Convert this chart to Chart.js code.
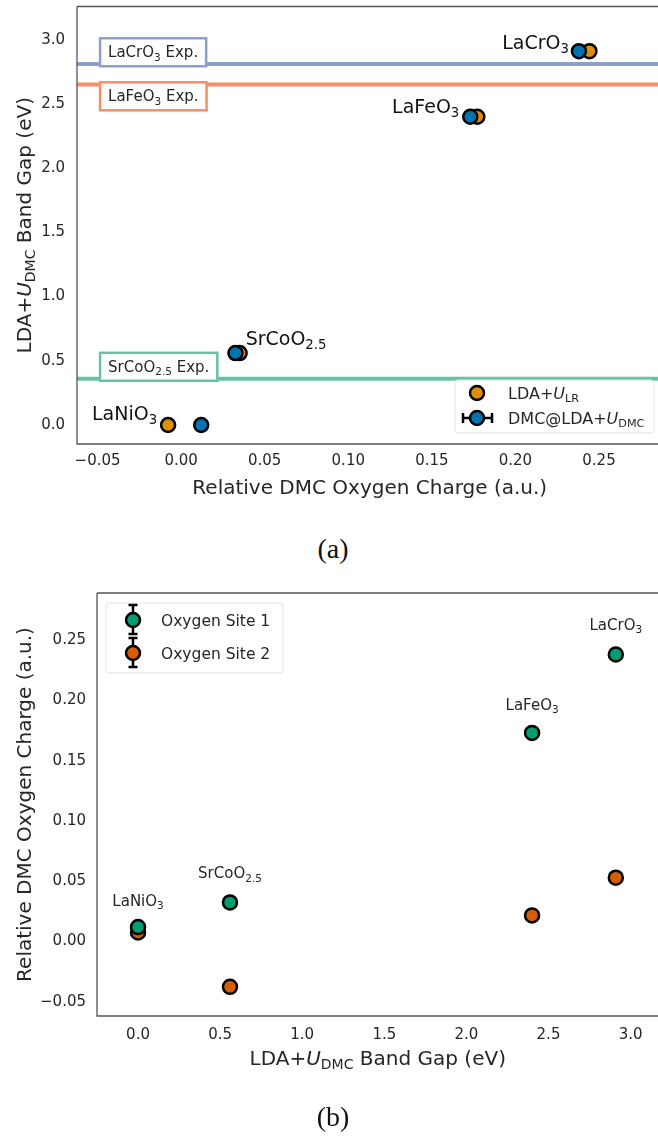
<!DOCTYPE html>
<html>
<head>
<meta charset="utf-8">
<script src="https://cdn.jsdelivr.net/npm/chart.js"></script>
<style>
  body { margin: 0; background: #fff; width: 658px; height: 1141px; position: relative; overflow: hidden; }
  canvas { position: absolute; left: 0; }
  .cap { position: absolute; left: 0; width: 666px; text-align: center; font-family: "Liberation Serif", "DejaVu Serif", serif; font-size: 28px; color: #111; }
</style>
</head>
<body>
<canvas id="chartA" width="668" height="524" style="top:-3px"></canvas>
<div class="cap" style="top:533px">(a)</div>
<canvas id="chartB" width="668" height="581" style="top:560px"></canvas>
<div class="cap" style="top:1101px">(b)</div>
<script>
const FONT = "DejaVu Sans";

// data
const materials = ["LaCrO3", "LaFeO3", "SrCoO2.5", "LaNiO3"];
const bandGapDMC = [2.91, 2.40, 0.56, 0.0];
const chargeSite1 = [0.238, 0.173, 0.0325, 0.012];
const chargeSite2 = [0.053, 0.0217, -0.0375, 0.0075];
const chargeLR = [0.2443, 0.1772, 0.035, -0.0078];
const expNames = ["LaCrO3", "LaFeO3", "SrCoO2.5"];
const expGap = [2.81, 2.65, 0.36];

const xTicksA = [-0.05, 0, 0.05, 0.10, 0.15, 0.20, 0.25];
const yTicksA = [0, 0.5, 1.0, 1.5, 2.0, 2.5, 3.0];
const xTicksB = [0, 0.5, 1.0, 1.5, 2.0, 2.5, 3.0];
const yTicksB = [-0.05, 0, 0.05, 0.10, 0.15, 0.20, 0.25];

const expColors = ["#8da0cb", "#fc8d62", "#66c2a5"];
const TXT = "#262626";

// ---- rich text helpers (subscripts / italic) ----
function partFont(p, size) {
  const s = p.sub ? size * 0.7 : size;
  return (p.it ? "italic " : "") + s + "px " + FONT;
}
function richWidth(ctx, parts, size) {
  let w = 0;
  parts.forEach(p => { ctx.font = partFont(p, size); w += ctx.measureText(p.t).width; });
  return w;
}
function drawRich(ctx, parts, x, y, size, align, color) {
  const w = richWidth(ctx, parts, size);
  let cx = align === "right" ? x - w : align === "center" ? x - w / 2 : x;
  ctx.save();
  ctx.fillStyle = color;
  ctx.textAlign = "left";
  ctx.textBaseline = "alphabetic";
  parts.forEach(p => {
    ctx.font = partFont(p, size);
    ctx.fillText(p.t, cx, y + (p.sub ? size * 0.22 : 0));
    cx += ctx.measureText(p.t).width;
  });
  ctx.restore();
  return w;
}
function chem(name, extra) {
  const m = name.match(/^(.*?)([\d.]+)$/);
  const parts = m ? [{ t: m[1] }, { t: m[2], sub: true }] : [{ t: name }];
  return extra ? parts.concat([{ t: extra }]) : parts;
}
const ldaU = [{ t: "LDA+" }, { t: "U", it: true }, { t: "DMC", sub: true }];

function marker(ctx, x, y, color) {
  ctx.beginPath();
  ctx.arc(x, y, 7, 0, Math.PI * 2);
  ctx.fillStyle = color;
  ctx.fill();
  ctx.lineWidth = 2.5;
  ctx.strokeStyle = "#000";
  ctx.stroke();
}
function legendBox(ctx, x, y, w, h) {
  ctx.save();
  ctx.beginPath();
  ctx.roundRect(x, y, w, h, 3);
  ctx.fillStyle = "rgba(255,255,255,0.85)";
  ctx.fill();
  ctx.strokeStyle = "#e3e3e3";
  ctx.lineWidth = 1;
  ctx.stroke();
  ctx.restore();
}
function spines(ctx, a) {
  ctx.save();
  ctx.strokeStyle = "#555";
  ctx.lineWidth = 1.3;
  ctx.beginPath();
  ctx.moveTo(a.left, a.top); ctx.lineTo(a.right, a.top);
  ctx.moveTo(a.left, a.top); ctx.lineTo(a.left, a.bottom); ctx.lineTo(a.right, a.bottom);
  ctx.stroke();
  ctx.restore();
}
function rotatedTitle(ctx, parts, x, y, size) {
  ctx.save();
  ctx.translate(x, y);
  ctx.rotate(-Math.PI / 2);
  drawRich(ctx, parts, 0, 0, size, "center", TXT);
  ctx.restore();
}
const fmt = (v, d) => v.toFixed(d).replace("-", "\u2212");

function axis(min, max, ticks, dec, pad, fit) {
  return {
    type: "linear", min, max,
    afterBuildTicks: s => { s.ticks = ticks.map(v => ({ value: v })); },
    afterFit: s => {
      fit(s);
      s.paddingLeft = s.paddingRight = s.paddingTop = s.paddingBottom = 0;
    },
    grid: { display: false, drawTicks: false, tickLength: 0 },
    border: { display: false },
    ticks: { callback: v => fmt(v, dec), font: { family: FONT, size: 15 }, color: TXT, padding: pad }
  };
}

// ---- chart (a) ----  (canvas sits 3px above the page top)
const OFF = 3;
const expBoxX = -0.0485;
const expBoxY = [2.902, 2.559, 0.453];
const labelA = [
  { ref: 0, dx: -10, dy: -2, align: "right" },
  { ref: 0, dx: -11, dy: -4, align: "right" },
  { ref: 1, dx: 6, dy: -8, align: "left" },
  { ref: 1, dx: -11, dy: -5, align: "right" }
];

const decorA = {
  id: "decorA",
  afterDraw(chart) {
    const ctx = chart.ctx, xs = chart.scales.x, ys = chart.scales.y, a = chart.chartArea;
    // experimental gap labels
    expNames.forEach((n, i) => {
      const parts = chem(n, " Exp.");
      const w = richWidth(ctx, parts, 15);
      const left = xs.getPixelForValue(expBoxX), cy = ys.getPixelForValue(expBoxY[i]);
      ctx.save();
      ctx.fillStyle = "#fff";
      ctx.fillRect(left, cy - 14, w + 16, 28);
      ctx.strokeStyle = expColors[i];
      ctx.lineWidth = 2.5;
      ctx.strokeRect(left, cy - 14, w + 16, 28);
      ctx.restore();
      drawRich(ctx, parts, left + 8, cy + 5, 15, "left", TXT);
    });
    // point labels
    materials.forEach((n, i) => {
      const L = labelA[i];
      const xv = L.ref === 0 ? chargeSite1[i] : chargeLR[i];
      const px = xs.getPixelForValue(xv), py = ys.getPixelForValue(bandGapDMC[i]);
      drawRich(ctx, chem(n), px + L.dx, py + L.dy, 19, L.align, "#111");
    });
    spines(ctx, a);
    // axis titles
    rotatedTitle(ctx, ldaU.concat([{ t: " Band Gap (eV)" }]), 31, (a.top + a.bottom) / 2, 20);
    drawRich(ctx, [{ t: "Relative DMC Oxygen Charge (a.u.)" }], (a.left + a.right) / 2 + 2, 494 + OFF, 20, "center", TXT);
    // legend
    legendBox(ctx, 455, 380 + OFF, 199, 53);
    marker(ctx, 477, 393 + OFF, "#DE8F05");
    ctx.save();
    ctx.strokeStyle = "#000"; ctx.lineWidth = 2.5;
    ctx.beginPath();
    ctx.moveTo(463, 418 + OFF); ctx.lineTo(492, 418 + OFF);
    ctx.moveTo(463, 413 + OFF); ctx.lineTo(463, 423 + OFF);
    ctx.moveTo(492, 413 + OFF); ctx.lineTo(492, 423 + OFF);
    ctx.stroke();
    ctx.restore();
    marker(ctx, 477, 418 + OFF, "#0173B2");
    drawRich(ctx, [{ t: "LDA+" }, { t: "U", it: true }, { t: "LR", sub: true }], 508, 398.5 + OFF, 16, "left", TXT);
    drawRich(ctx, [{ t: "DMC@LDA+" }, { t: "U", it: true }, { t: "DMC", sub: true }], 508, 423.5 + OFF, 16, "left", TXT);
  }
};

const ptStyle = c => ({ backgroundColor: c, borderColor: "#000", borderWidth: 2.5, pointRadius: 7 });

new Chart(document.getElementById("chartA"), {
  type: "scatter",
  data: {
    datasets: [
      Object.assign({ label: "DMC@LDA+U_DMC", data: chargeSite1.map((x, i) => ({ x, y: bandGapDMC[i] })), order: 0 }, ptStyle("#0173B2")),
      Object.assign({ label: "LDA+U_LR", data: chargeLR.map((x, i) => ({ x, y: bandGapDMC[i] })), order: 1 }, ptStyle("#DE8F05"))
    ].concat(expGap.map((g, i) => ({
      label: expNames[i] + " Exp.",
      data: [{ x: -1, y: g }, { x: 1, y: g }],
      showLine: true, borderColor: expColors[i], borderWidth: 4, pointRadius: 0, order: 2
    })))
  },
  options: {
    responsive: false, animation: false, devicePixelRatio: 1, events: [],
    layout: { padding: { top: 1, right: 0, left: 0, bottom: 0 } },
    plugins: { legend: { display: false }, tooltip: { enabled: false } },
    scales: {
      x: axis(-0.0623, 0.2856, xTicksA, 2, 8, s => { s.height = 77; }),
      y: axis(-0.148, 3.258, yTicksA, 1, 12, s => { s.width = 77; })
    }
  },
  plugins: [decorA]
});

// ---- chart (b) ----
const labelDyB = [-25, -23, -24, -21];

const decorB = {
  id: "decorB",
  afterDraw(chart) {
    const ctx = chart.ctx, xs = chart.scales.x, ys = chart.scales.y, a = chart.chartArea;
    materials.forEach((n, i) => {
      const px = xs.getPixelForValue(bandGapDMC[i]), py = ys.getPixelForValue(chargeSite1[i]);
      drawRich(ctx, chem(n), px, py + labelDyB[i], 15, "center", TXT);
    });
    spines(ctx, a);
    rotatedTitle(ctx, [{ t: "Relative DMC Oxygen Charge (a.u.)" }], 31, (a.top + a.bottom) / 2, 20);
    drawRich(ctx, ldaU.concat([{ t: " Band Gap (eV)" }]), (a.left + a.right) / 2, 505, 20, "center", TXT);
    // legend
    legendBox(ctx, 106, 43, 177, 70);
    ctx.save();
    ctx.strokeStyle = "#000"; ctx.lineWidth = 2.5;
    [[45, 74], [78, 107]].forEach(([y0, y1]) => {
      ctx.beginPath();
      ctx.moveTo(133, y0); ctx.lineTo(133, y1);
      ctx.moveTo(128.5, y0); ctx.lineTo(137.5, y0);
      ctx.moveTo(128.5, y1); ctx.lineTo(137.5, y1);
      ctx.stroke();
    });
    ctx.restore();
    marker(ctx, 133, 60, "#029E73");
    marker(ctx, 133, 93, "#D55E00");
    drawRich(ctx, [{ t: "Oxygen Site 1" }], 161, 65.5, 15.5, "left", TXT);
    drawRich(ctx, [{ t: "Oxygen Site 2" }], 161, 98.5, 15.5, "left", TXT);
  }
};

new Chart(document.getElementById("chartB"), {
  type: "scatter",
  data: {
    datasets: [
      Object.assign({ label: "Oxygen Site 1", data: bandGapDMC.map((x, i) => ({ x, y: chargeSite1[i] })), order: 0 }, ptStyle("#029E73")),
      Object.assign({ label: "Oxygen Site 2", data: bandGapDMC.map((x, i) => ({ x, y: chargeSite2[i] })), order: 1 }, ptStyle("#D55E00"))
    ]
  },
  options: {
    responsive: false, animation: false, devicePixelRatio: 1, events: [],
    layout: { padding: { top: 33, right: 0, left: 0, bottom: 0 } },
    plugins: { legend: { display: false }, tooltip: { enabled: false } },
    scales: {
      x: axis(-0.25, 3.17, xTicksB, 1, 10, s => { s.height = 125; }),
      y: axis(-0.0617, 0.289, yTicksB, 2, 11, s => { s.width = 97; })
    }
  },
  plugins: [decorB]
});
</script>
</body>
</html>
